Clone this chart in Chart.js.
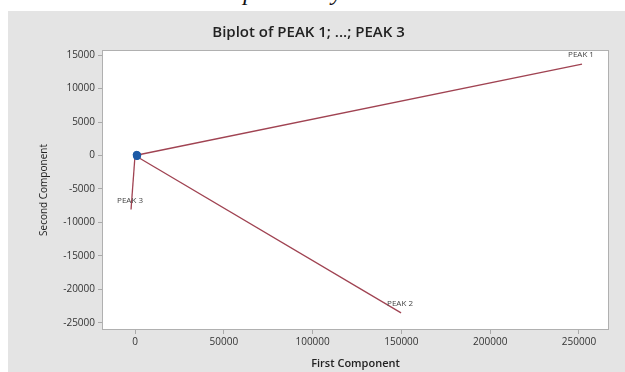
<!DOCTYPE html>
<html>
<head>
<meta charset="utf-8">
<script src="https://cdn.jsdelivr.net/npm/chart.js@4/dist/chart.umd.min.js"></script>
<style>
    body { margin: 0; background: #fff; width: 625px; height: 372px; overflow: hidden; position: relative; }
    #caption { position: absolute; left: 0; top: 0; width: 625px; height: 11px; overflow: hidden; }
    #caption span { position: absolute; left: 222px; top: -21px; font: italic 24px "Liberation Serif", serif; color: #111; white-space: nowrap; }
    #panel { position: absolute; left: 8px; top: 11px; width: 617px; height: 361px; background: #e4e4e4; }
</style>
</head>
<body>
<div id="caption"><span>Biplot Analysis</span></div>
<div id="panel"><canvas id="biplot" width="617" height="361"></canvas></div>
<script>
const loadingNames = ['PEAK 1', 'PEAK 2', 'PEAK 3'];
const loadingX = [251700, 149800, -2250];
const loadingY = [13650, -23500, -8060];
const scoreX = [900, 1100, 1300];
const scoreY = [100, -100, 50];
const xTicks = [0, 50000, 100000, 150000, 200000, 250000];
const yTicks = [15000, 10000, 5000, 0, -5000, -10000, -15000, -20000, -25000];

const lineColor = '#a04352';
const textColor = '#333';

// white plot area with a thin frame, like minitab
const plotFrame = {
    id: 'plotFrame',
    beforeDraw(chart) {
        const { ctx, chartArea: a } = chart;
        ctx.save();
        ctx.fillStyle = '#fff';
        ctx.fillRect(a.left, a.top, a.right - a.left, a.bottom - a.top);
        ctx.strokeStyle = '#b0b0b0';
        ctx.lineWidth = 1;
        ctx.strokeRect(a.left + 0.5, a.top + 0.5, a.right - a.left - 1, a.bottom - a.top - 1);
        ctx.restore();
    }
};

const peakLabels = {
    id: 'peakLabels',
    afterDatasetsDraw(chart) {
        const { ctx, scales } = chart;
        ctx.save();
        ctx.font = '8px "Open Sans", sans-serif';
        ctx.fillStyle = '#444';
        ctx.textAlign = 'center';
        ctx.textBaseline = 'middle';
        loadingNames.forEach((name, i) => {
            const px = scales.x.getPixelForValue(loadingX[i]);
            const py = scales.y.getPixelForValue(loadingY[i]);
            ctx.fillText(name, px - 1, py - 9);
        });
        ctx.restore();
    }
};

const datasets = [{
    type: 'scatter',
    label: 'Scores',
    order: 0,
    data: scoreX.map((x, i) => ({ x: x, y: scoreY[i] })),
    backgroundColor: '#1d5aa6',
    borderColor: '#1d5aa6',
    pointRadius: 3.5
}];
loadingNames.forEach((name, i) => {
    datasets.push({
        type: 'line',
        label: name,
        order: 1,
        data: [{ x: 0, y: 0 }, { x: loadingX[i], y: loadingY[i] }],
        borderColor: lineColor,
        borderWidth: 1.3,
        pointRadius: 0,
        fill: false
    });
});

new Chart(document.getElementById('biplot'), {
    type: 'scatter',
    data: { datasets },
    options: {
        responsive: false,
        animation: false,
        layout: { padding: { left: 0, right: 16, top: 0, bottom: 0 } },
        plugins: {
            legend: { display: false },
            tooltip: { enabled: false },
            title: {
                display: true,
                text: 'Biplot of PEAK 1; ...; PEAK 3',
                color: '#222',
                font: { family: '"Open Sans", sans-serif', size: 15, weight: '600', lineHeight: 1.2 },
                padding: { top: 13, bottom: 8 }
            }
        },
        scales: {
            x: {
                type: 'linear',
                min: -18600,
                max: 266900,
                afterBuildTicks: s => { s.ticks = xTicks.map(v => ({ value: v })); },
                afterFit: s => { s.height = 42; },
                grid: { drawOnChartArea: false, drawTicks: true, tickLength: 4, color: '#aaa' },
                border: { display: false },
                ticks: { color: textColor, font: { family: '"Open Sans", sans-serif', size: 10 }, padding: 2, maxRotation: 0, callback: v => String(v) },
                title: { display: true, text: 'First Component', color: '#222', font: { family: '"Open Sans", sans-serif', size: 11, weight: '600', lineHeight: 1.2 }, padding: { top: 0, bottom: 2 } }
            },
            y: {
                type: 'linear',
                min: -26050,
                max: 15750,
                afterBuildTicks: s => { s.ticks = yTicks.map(v => ({ value: v })); },
                afterFit: s => { s.width = 94; },
                grid: { drawOnChartArea: false, drawTicks: true, tickLength: 4, color: '#aaa' },
                border: { display: false },
                ticks: { color: textColor, font: { family: '"Open Sans", sans-serif', size: 10 }, padding: 3, callback: v => String(v) },
                title: { display: true, text: 'Second Component', color: '#222', font: { family: '"Open Sans", sans-serif', size: 10, weight: '400', lineHeight: 1.2 }, padding: { top: 30, bottom: 0 } }
            }
        }
    },
    plugins: [plotFrame, peakLabels]
});
</script>
</body>
</html>
